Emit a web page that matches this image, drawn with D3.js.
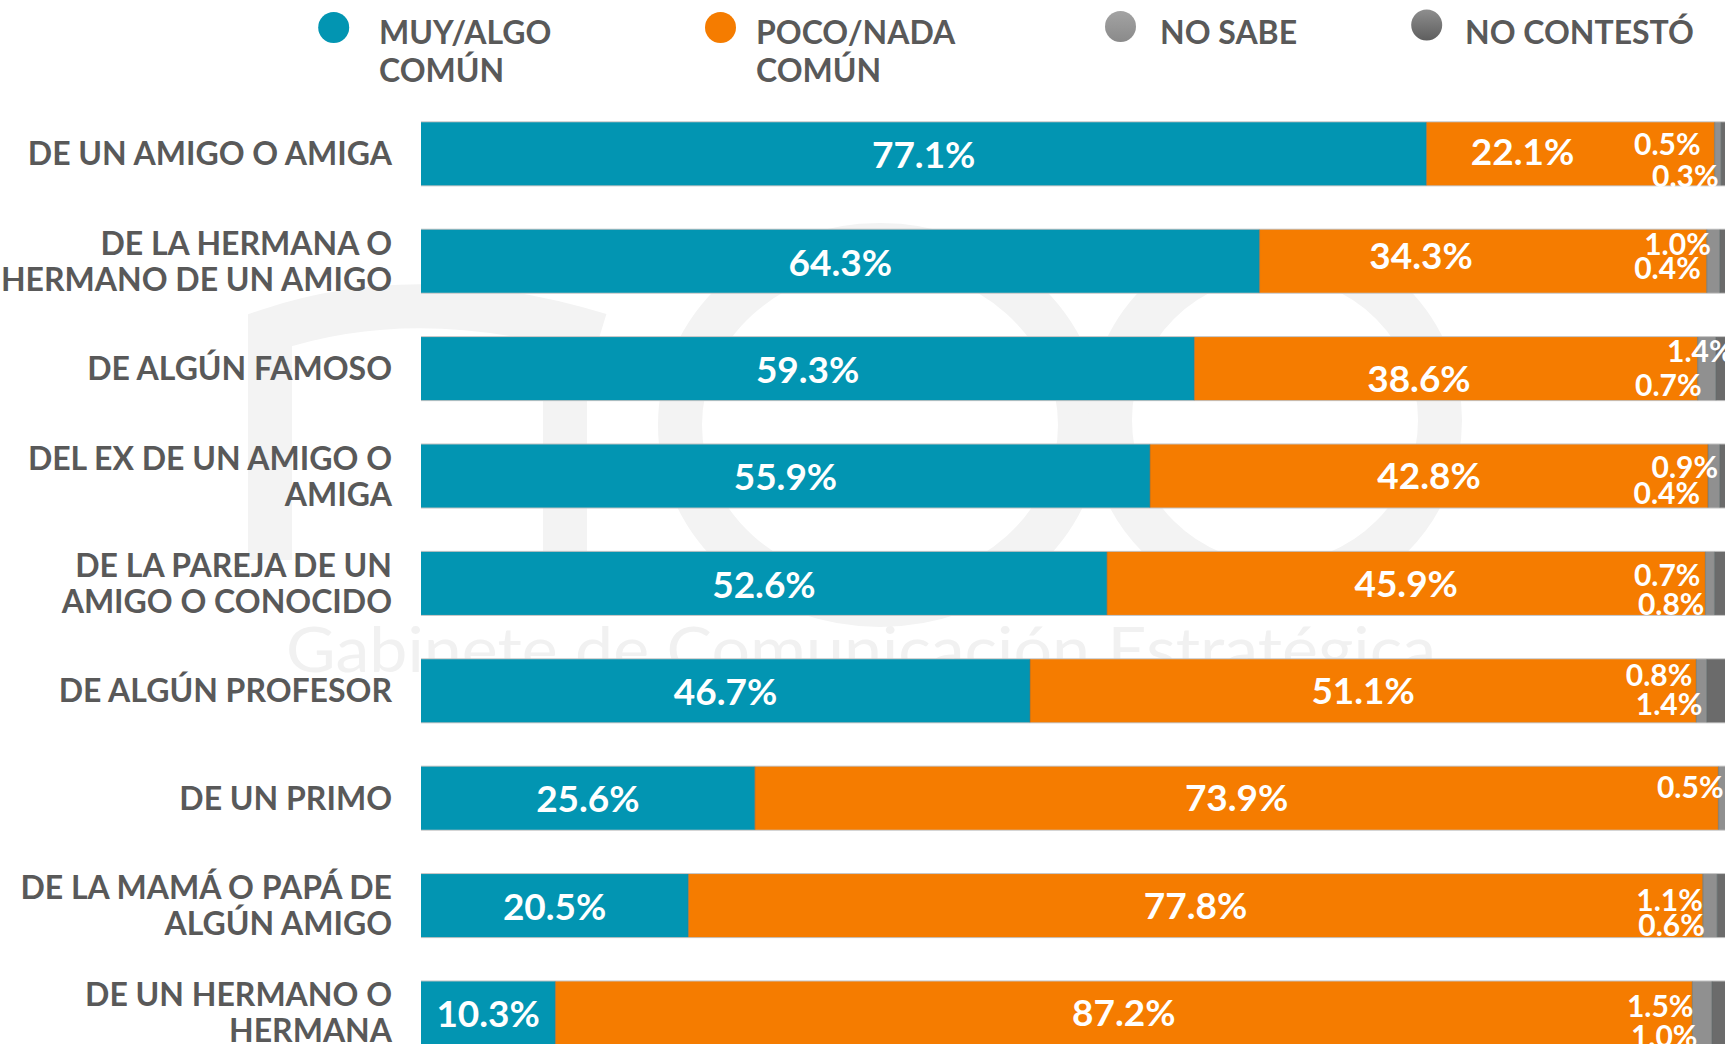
<!DOCTYPE html>
<html>
<head>
<meta charset="utf-8">
<script src="https://cdnjs.cloudflare.com/ajax/libs/d3/7.8.5/d3.min.js"></script>
<style>
  html, body { margin: 0; padding: 0; background: #ffffff; }
  svg { display: block; }
</style>
</head>
<body>
<div id="chart"></div>
<script>
// ---------- DATA ----------
const categories = [
  "DE UN AMIGO O AMIGA",
  "DE LA HERMANA O\nHERMANO DE UN AMIGO",
  "DE ALGÚN FAMOSO",
  "DEL EX DE UN AMIGO O\nAMIGA",
  "DE LA PAREJA DE UN\nAMIGO O CONOCIDO",
  "DE ALGÚN PROFESOR",
  "DE UN PRIMO",
  "DE LA MAMÁ O PAPÁ DE\nALGÚN AMIGO",
  "DE UN HERMANO O\nHERMANA"
];
const seriesNames = ["MUY/ALGO\nCOMÚN", "POCO/NADA\nCOMÚN", "NO SABE", "NO CONTESTÓ"];
const muyAlgo    = [77.1, 64.3, 59.3, 55.9, 52.6, 46.7, 25.6, 20.5, 10.3];
const pocoNada   = [22.1, 34.3, 38.6, 42.8, 45.9, 51.1, 73.9, 77.8, 87.2];
const noSabe     = [0.5, 1.0, 1.4, 0.9, 0.7, 0.8, 0.5, 1.1, 1.5];
const noContesto = [0.3, 0.4, 0.7, 0.4, 0.8, 1.4, 0.0, 0.6, 1.0];
const watermarkText = "Gabinete de Comunicación Estratégica";

// ---------- LAYOUT / STYLE ----------
const W = 1727, H = 1044;
const colors = ["#0295B2", "#F57C00", "#909090", "#6B6B6B"];
const textGray = "#595959";
// manual nudges of value labels (dx, dy), as in the original slide
const orangeNudge = [[-48, -2], [-62, -6], [-27, 10], [0, 0], [0, 0], [0, 0], [0, 0], [0, 0], [0, 0]];
const sabeNudge   = [[-14, -10], [4, -17], [36, -17], [10, -9], [-5, -8], [-4, -16], [5, -11], [0, -5], [1, -7]];
const contNudge   = [[4, 22], [-6, 7], [4, 17], [-8, 17], [-1, 21], [6, 13], [0, 0], [2, 20], [5, 23]];

const rows = categories.map((c, i) => ({
  cat: c, k0: muyAlgo[i], k1: pocoNada[i], k2: noSabe[i], k3: noContesto[i]
}));
const keys = ["k0", "k1", "k2", "k3"];
const stacked = d3.stack().keys(keys)(rows);

const svg = d3.select("#chart").append("svg").attr("width", W).attr("height", H);
svg.append("rect").attr("width", W).attr("height", H).attr("fill", "#ffffff");

const defs = svg.append("defs");
const g1 = defs.append("linearGradient").attr("id", "gSabe").attr("x1", 0).attr("y1", 0).attr("x2", 0).attr("y2", 1);
g1.append("stop").attr("offset", "0%").attr("stop-color", "#a3a3a3");
g1.append("stop").attr("offset", "100%").attr("stop-color", "#8a8a8a");
const g2 = defs.append("linearGradient").attr("id", "gCont").attr("x1", 0).attr("y1", 0).attr("x2", 0).attr("y2", 1);
g2.append("stop").attr("offset", "0%").attr("stop-color", "#8e8e8e");
g2.append("stop").attr("offset", "100%").attr("stop-color", "#5e5e5e");
const legendFill = [colors[0], colors[1], "url(#gSabe)", "url(#gCont)"];

// faint background logo (watermark)
const wm = svg.append("g").attr("fill", "none").attr("stroke", "#f3f3f3").attr("stroke-width", 44);
wm.append("path").attr("d", "M 600 335 Q 420 280 270 330 L 270 560");
wm.append("path").attr("d", "M 565 380 L 565 560");
wm.append("ellipse").attr("cx", 880).attr("cy", 425).attr("rx", 200).attr("ry", 180);
wm.append("ellipse").attr("cx", 1275).attr("cy", 420).attr("rx", 165).attr("ry", 165);

svg.append("text")
  .attr("x", 286).attr("y", 672)
  .attr("textLength", 1150).attr("lengthAdjust", "spacingAndGlyphs")
  .attr("font-family", "Lato, sans-serif").attr("font-weight", 400)
  .attr("font-size", 62).attr("fill", "#f1f1f1")
  .text(watermarkText);

// scales
const x = d3.scaleLinear().domain([0, 100]).range([421, 1725]);
const y = d3.scaleBand().domain(categories).range([122.3, 1044.5]).paddingInner(0.413).paddingOuter(0);
const bw = y.bandwidth();

// bar outline (thin light grey edge)
svg.append("g").selectAll("rect").data(rows).join("rect")
  .attr("x", x(0)).attr("y", d => y(d.cat) - 1)
  .attr("width", x(100) - x(0)).attr("height", bw + 2)
  .attr("fill", "#c4c4c4");

// segments
svg.append("g").selectAll("g").data(stacked).join("g")
  .attr("fill", (d, i) => colors[i])
  .selectAll("rect").data(d => d).join("rect")
  .attr("x", d => x(d[0]))
  .attr("y", d => y(d.data.cat))
  .attr("width", d => Math.max(0, x(d[1]) - x(d[0])))
  .attr("height", bw);

// separators between segments
svg.append("g").selectAll("line").data(stacked.slice(1).flatMap(s => s.filter(d => d[1] > d[0])))
  .join("line")
  .attr("x1", d => x(d[0])).attr("x2", d => x(d[0]))
  .attr("y1", d => y(d.data.cat)).attr("y2", d => y(d.data.cat) + bw)
  .attr("stroke", "#5a6a6a").attr("stroke-opacity", 0.45).attr("stroke-width", 1.2);

const fmt = v => v.toFixed(1) + "%";
const labels = svg.append("g").attr("fill", "#ffffff").attr("font-family", "Lato, sans-serif").attr("font-weight", 700);

// big labels
labels.selectAll("text.a").data(stacked[0]).join("text").attr("class", "a")
  .attr("x", d => (x(d[0]) + x(d[1])) / 2)
  .attr("y", d => y(d.data.cat) + bw / 2 + 1 + 13.3)
  .attr("text-anchor", "middle").attr("font-size", 37)
  .text((d, i) => fmt(muyAlgo[i]));
labels.selectAll("text.b").data(stacked[1]).join("text").attr("class", "b")
  .attr("x", (d, i) => (x(d[0]) + x(d[1])) / 2 + orangeNudge[i][0])
  .attr("y", (d, i) => y(d.data.cat) + bw / 2 + orangeNudge[i][1] + 13.3)
  .attr("text-anchor", "middle").attr("font-size", 37)
  .text((d, i) => fmt(pocoNada[i]));
// small labels
labels.selectAll("text.c").data(stacked[2]).join("text").attr("class", "c")
  .attr("x", (d, i) => x(d[0]) + sabeNudge[i][0])
  .attr("y", (d, i) => y(d.data.cat) + bw / 2 + sabeNudge[i][1] + 10.8)
  .attr("text-anchor", "end").attr("font-size", 30)
  .text((d, i) => fmt(noSabe[i]));
labels.selectAll("text.d").data(stacked[3].filter((d, i) => noContesto[i] > 0)).join("text").attr("class", "d")
  .attr("x", d => { const i = categories.indexOf(d.data.cat); return x(stacked[2][i][0]) + contNudge[i][0]; })
  .attr("y", d => { const i = categories.indexOf(d.data.cat); return y(d.data.cat) + bw / 2 + contNudge[i][1] + 10.8; })
  .attr("text-anchor", "end").attr("font-size", 30)
  .text(d => fmt(noContesto[categories.indexOf(d.data.cat)]));

// category labels
const catG = svg.append("g").attr("fill", textGray).attr("font-family", "Lato, sans-serif")
  .attr("font-weight", 700).attr("font-size", 32).attr("text-anchor", "end");
categories.forEach(c => {
  const lines = c.split("\n");
  const cy = y(c) + bw / 2;
  const lh = 36, capH = 23;
  const t = catG.append("text");
  lines.forEach((ln, j) => {
    t.append("tspan").attr("x", 392)
      .attr("y", cy - (lines.length - 1) * lh / 2 + j * lh + capH / 2)
      .text(ln);
  });
});

// legend
const legX = [333.7, 720.5, 1120.5, 1426.7];
const legY = [27.5, 27.5, 26.5, 25];
const legTextX = [379, 756, 1160, 1465];
const leg = svg.append("g");
seriesNames.forEach((s, i) => {
  leg.append("circle").attr("cx", legX[i]).attr("cy", legY[i]).attr("r", 15.5).attr("fill", legendFill[i]);
  const t = leg.append("text").attr("fill", textGray).attr("font-family", "Lato, sans-serif")
    .attr("font-weight", 700).attr("font-size", 32);
  s.split("\n").forEach((ln, j) => {
    t.append("tspan").attr("x", legTextX[i]).attr("y", 44 + j * 37.5).text(ln);
  });
});
</script>
</body>
</html>
